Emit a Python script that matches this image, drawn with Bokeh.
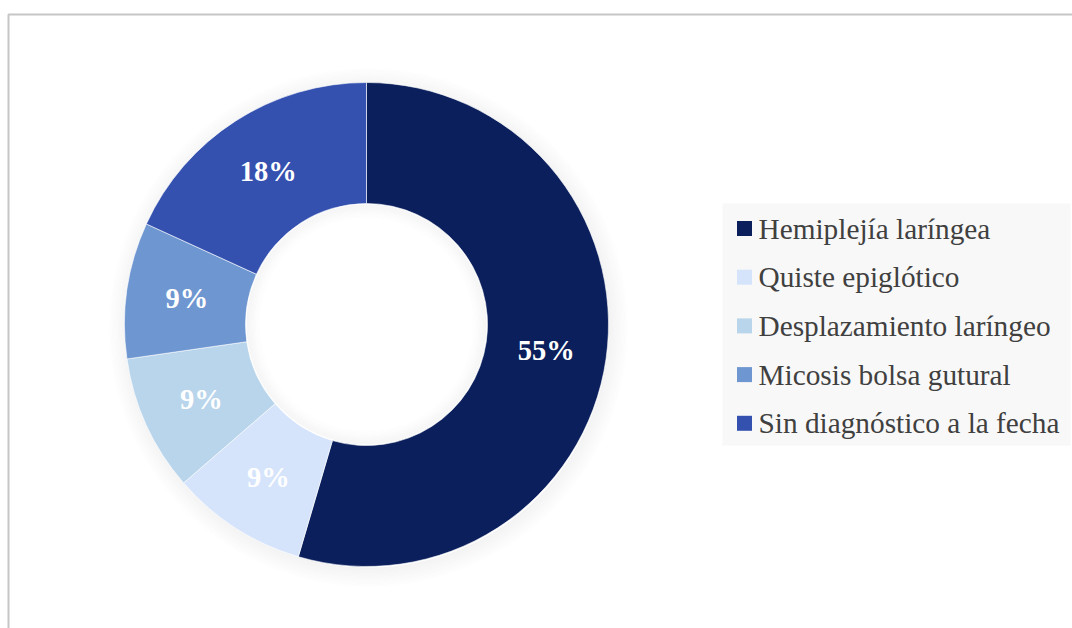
import numpy as np
from bokeh.plotting import figure
from bokeh.models import Range1d, ColumnDataSource
from bokeh.core.properties import value
from bokeh.embed import file_html
from bokeh.resources import INLINE

categories = ["Hemiplejía laríngea", "Quiste epiglótico", "Desplazamiento laríngeo",
              "Micosis bolsa gutural", "Sin diagnóstico a la fecha"]
counts = [6, 1, 1, 1, 2]
colors = ["#0a1f5c", "#d5e4fb", "#b9d5ec", "#6e96d0", "#3451b0"]

W, H = 1072, 628
cx, cy = 366, H - 324
r_out, r_in = 242, 121

p = figure(width=W, height=H, output_backend="svg", toolbar_location=None,
           x_range=Range1d(0, W), y_range=Range1d(0, H), min_border=0)
p.axis.visible = False
p.grid.visible = False
p.outline_line_color = None
p.background_fill_color = "white"
p.border_fill_color = "white"

# frame
p.line(x=[8, 8, W + 5], y=[-5, H - 14, H - 14], line_color="#c6c6c6", line_width=2)

# soft shadow
for k in range(18):
    p.annulus(x=cx + 2, y=cy - 3, inner_radius=r_out - 2 + k * 1.2, outer_radius=r_out - 0.8 + k * 1.2,
              fill_color="black", fill_alpha=0.05 * (1 - k / 18), line_color=None)
for k in range(12):
    p.annulus(x=cx, y=cy, inner_radius=r_in - 1 - (k + 1) * 1.2, outer_radius=r_in - 1 - k * 1.2,
              fill_color="black", fill_alpha=0.04 * (1 - k / 12), line_color=None)

total = sum(counts)
frac = np.array(counts) / total
ends = np.pi / 2 - 2 * np.pi * np.cumsum(frac)
starts = np.concatenate([[np.pi / 2], ends[:-1]])
mids = (starts + ends) / 2
rm = (r_out + r_in) / 2
labels = [f"{round(f * 100)}%" for f in frac]

src = ColumnDataSource(dict(start=starts, end=ends, color=colors, cat=categories,
                            lx=cx + rm * np.cos(mids), ly=cy + rm * np.sin(mids), lab=labels))
p.annular_wedge(x=cx, y=cy, inner_radius=r_in, outer_radius=r_out, start_angle="start",
                end_angle="end", direction="clock", fill_color="color", line_color="white",
                line_width=0.6, source=src)
p.text(x="lx", y="ly", text="lab", source=src, text_color="white", text_font=value("Liberation Serif"),
       text_font_style="bold", text_font_size="28.5px", text_align="center", text_baseline="middle")

# legend
lx0, ly0, step = 744, H - 228, 48.7
ys = ly0 - step * np.arange(len(categories))
p.quad(left=722, right=1070, bottom=H - 445, top=H - 203, fill_color="#f8f8f8", line_color=None)
p.rect(x=lx0, y=ys, width=15, height=15, fill_color=colors, line_color=None)
p.text(x=758, y=ys, text=categories, text_color="#404040", text_font=value("Liberation Serif"),
       text_font_size="29.3px", text_baseline="middle", text_align="left")

open("out.html", "w").write(file_html(p, INLINE))
